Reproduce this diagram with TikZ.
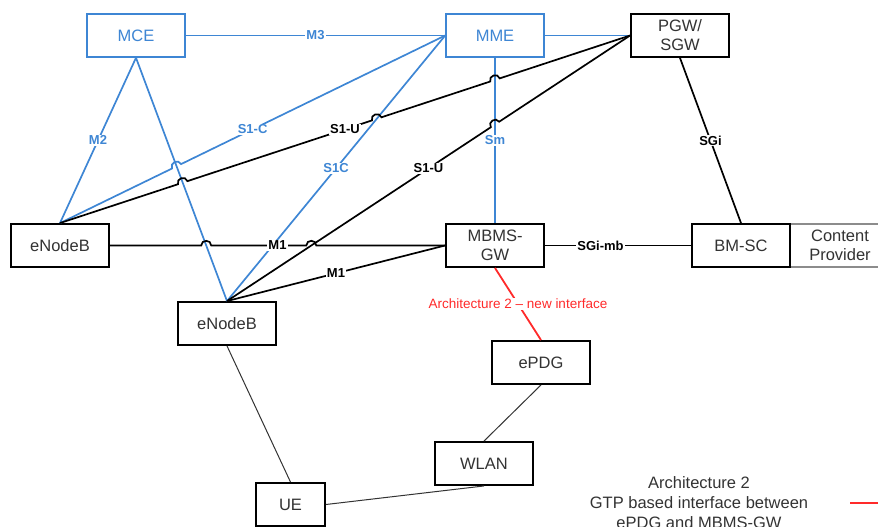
\documentclass[tikz,border=0pt]{standalone}
\usepackage{fontspec}
\setmainfont{Liberation Sans}
\usetikzlibrary{calc,intersections}
\definecolor{netblue}{HTML}{3E86D4}
\definecolor{newred}{HTML}{FF2A2A}
\definecolor{boxtext}{HTML}{333333}
\begin{document}
\begin{tikzpicture}[x=1pt,y=-1pt,
  box/.style={draw=black, line width=1.9pt, minimum width=98pt, minimum height=43pt,
    inner sep=0pt, text=boxtext, font=\fontsize{16.5}{19}\selectfont, align=center, fill=white},
  bluebox/.style={box, draw=netblue, line width=1.6pt, text=netblue},
  link/.style={line width=1.7pt, black},
  bluelink/.style={line width=1.7pt, netblue},
  thinlink/.style={line width=1pt, black!80},
  lbl/.style={fill=white, inner sep=1pt, text=black, font=\bfseries\fontsize{13}{15}\selectfont},
  bluelbl/.style={lbl, text=netblue},
  jump/.style={bend left=90, looseness=1.6}]
\useasboundingbox (0,0) rectangle (878,527);
\clip (0,0) rectangle (878,527);

% network elements
\node[bluebox] (mce) at (136,35.5) {MCE};
\node[bluebox] (mme) at (495,35.5) {MME};
\node[box] (pgw) at (680,35.5) {PGW/\\SGW};
\node[box] (e1) at (60,245.5) {eNodeB};
\node[box] (mbms) at (495,245.5) {MBMS-\\GW};
\node[box, draw=black!45, line width=1.2pt, minimum width=100pt] (cp) at (840,245.5) {Content\\Provider};
\node[box] (bmsc) at (741,245.5) {BM-SC};
\node[box] (e2) at (227,323.5) {eNodeB};
\node[box] (epdg) at (541,362.5) {ePDG};
\node[box] (wlan) at (484,463.5) {WLAN};
\node[box, minimum width=69pt] (ue) at (290.5,504.5) {UE};

% helper paths for the line crossings
\path[name path=pA] (e1.north) -- (pgw.west);
\path[name path=pB] (e2.north) -- (pgw.west);
\path[name path=pC] (e1.north) -- (mme.west);
\path[name path=pD] (mce.south) -- (e2.north);
\path[name path=pE] (e2.north) -- (mme.west);
\path[name path=pF] (mme.south) -- (mbms.north);
\path[name path=pG] (e1.east) -- (mbms.west);
\path[name intersections={of=pA and pD, by=a1}];
\path[name intersections={of=pA and pE, by=a2}];
\path[name intersections={of=pA and pF, by=a3}];
\path[name intersections={of=pB and pF, by=b1}];
\path[name intersections={of=pC and pD, by=c1}];
\path[name intersections={of=pG and pD, by=g1}];
\path[name intersections={of=pG and pB, by=g2}];

% blue control-plane links
\draw[bluelink] (mce.east) -- (mme.west);
\draw[bluelink] (mme.east) -- (pgw.west);
\draw[bluelink] (mce.south) -- (e1.north);
\draw[bluelink] (mce.south) -- (e2.north);
\draw[bluelink] (e2.north) -- (mme.west);
\draw[bluelink] (mme.south) -- (mbms.north);
\draw[bluelink] (e1.north) -- ($(c1)!5pt!(e1.north)$) to[jump] ($(c1)!5pt!(mme.west)$) -- (mme.west);

% black user-plane links
\draw[link] (e1.north) -- ($(a1)!5pt!(e1.north)$) to[jump] ($(a1)!5pt!(pgw.west)$)
  -- ($(a2)!5pt!(e1.north)$) to[jump] ($(a2)!5pt!(pgw.west)$)
  -- ($(a3)!5pt!(e1.north)$) to[jump] ($(a3)!5pt!(pgw.west)$) -- (pgw.west);
\draw[link] (e2.north) -- ($(b1)!5pt!(e2.north)$) to[jump] ($(b1)!5pt!(pgw.west)$) -- (pgw.west);
\draw[link] (e1.east) -- ($(g1)!5pt!(e1.east)$) to[jump] ($(g1)!5pt!(mbms.west)$)
  -- ($(g2)!5pt!(e1.east)$) to[jump] ($(g2)!5pt!(mbms.west)$) -- (mbms.west);
\draw[link] (e2.north) -- (mbms.west);
\draw[link] (mbms.east) -- (bmsc.west);
\draw[link] (pgw.south) -- (bmsc.north);

% access links
\draw[thinlink] (e2.south) -- (ue.north);
\draw[thinlink] (ue.east) -- (wlan.south);
\draw[thinlink] (epdg.south) -- (wlan.north);

% new interface
\draw[newred, line width=1.8pt] (mbms.south) -- (epdg.north)
  node[midway, fill=white, inner sep=1pt, text=newred, font=\fontsize{13.5}{16}\selectfont] {Architecture 2 – new interface};

% interface labels
\path (mce.east) -- (mme.west) node[bluelbl, midway] {M3};
\path (mce.south) -- (e1.north) node[bluelbl, midway] {M2};
\path (e1.north) -- (mme.west) node[bluelbl, midway] {S1-C};
\path (e2.north) -- (mme.west) node[bluelbl, midway] {S1C};
\path (mme.south) -- (mbms.north) node[bluelbl, midway] {Sm};
\path (e1.north) -- (pgw.west) node[lbl, midway] {S1-U};
\path (e2.north) -- (pgw.west) node[lbl, midway] {S1-U};
\path (e1.east) -- (mbms.west) node[lbl, midway] {M1};
\path (e2.north) -- (mbms.west) node[lbl, midway] {M1};
\path (mbms.east) -- (bmsc.west) node[lbl, pos=0.38] {SGi-mb};
\path (pgw.south) -- (bmsc.north) node[lbl, midway] {SGi};

% legend
\node[text=boxtext, align=center, font=\fontsize{16.5}{20}\selectfont] (leg) at (699,503)
  {Architecture 2\\GTP based interface between\\ePDG and MBMS-GW};
\coordinate (legA) at (850,503);
\coordinate (legB) at (880,503);
\draw[newred, line width=2.8pt] (legA) -- (legB);
\end{tikzpicture}
\end{document}
